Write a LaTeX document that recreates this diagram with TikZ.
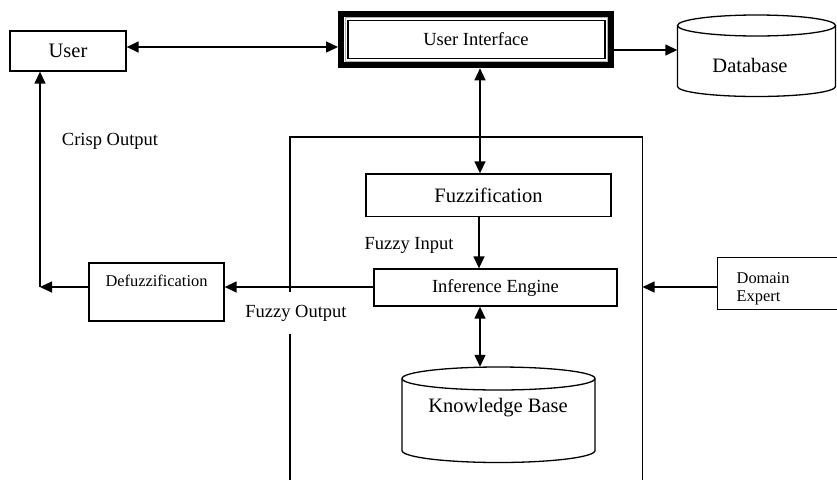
\documentclass[tikz,border=0pt]{standalone}
\usepackage{fontspec}
\setmainfont{Liberation Serif}
\usetikzlibrary{arrows.meta,calc}
\begin{document}
\begin{tikzpicture}[x=1pt,y=-1pt,
  box/.style={draw, line width=1.3pt, inner sep=0pt, rectangle},
  conn/.style={line width=1.4pt},
  arr/.style={conn, -{Triangle[length=12pt,width=11pt]}},
  darr/.style={conn, {Triangle[length=12pt,width=11pt]}-{Triangle[length=12pt,width=11pt]}},
  lbl/.style={font=\fontsize{18.5}{20}\selectfont, inner sep=0pt},
  big/.style={font=\fontsize{20.5}{22}\selectfont},
  small/.style={font=\fontsize{16.4}{18}\selectfont}
]
\useasboundingbox (0,0) rectangle (837,480);
\clip (0,0) rectangle (837,480);

% User
\node[box, minimum width=116pt, minimum height=40pt, big] (user) at (68,51) {User};

% User Interface
\node[draw, line width=6pt, minimum width=270pt, minimum height=51.6pt, inner sep=0pt,
      font=\fontsize{18.5}{20}\selectfont] (ui) at (476,39.5) {User Interface};
\draw[gray!60, line width=1pt] ($(ui.south west)+(7,-7)$) rectangle ($(ui.north east)+(-7,7)$);
\draw[line width=1.5pt] ($(ui.south west)+(10,-10)$) rectangle ($(ui.north east)+(-9,10)$);

% Database cylinder
\draw[line width=1.3pt] (756.5,25.5) ellipse [x radius=79pt, y radius=10.5pt];
\draw[line width=1.3pt] (677.5,25.5) -- (677.5,86.5)
   arc[start angle=180, end angle=360, x radius=79pt, y radius=10pt] -- (835.5,25.5);
\node[minimum width=158pt, minimum height=81pt, inner sep=0pt] (db) at (756.5,56) {};
\node[big, inner sep=0pt] (dbt) at (750,65) {Database};

% Big enclosing frame (open at the bottom)
\coordinate (frL) at (290,137);
\coordinate (frR) at (642.5,137);
\draw[line width=1.3pt] (290,480) -- (frL) -- (frR) -- (642.5,480);

% Fuzzification
\node[box, minimum width=245pt, minimum height=42.5pt, big] (fuzz) at (488.5,195.25) {Fuzzification};

% Inference Engine
\node[box, minimum width=243pt, minimum height=37pt, font=\fontsize{18.5}{20}\selectfont] (ie) at (495.5,287.5) {Inference Engine};

% Knowledge Base cylinder
\draw[line width=1.3pt] (498.5,378.5) ellipse [x radius=96.5pt, y radius=11.5pt];
\draw[line width=1.3pt] (402,378.5) -- (402,450.5)
   arc[start angle=180, end angle=360, x radius=96.5pt, y radius=12pt] -- (595,378.5);
\node[minimum width=193pt, minimum height=96pt, inner sep=0pt] (kb) at (498.5,415) {};
\node[big, inner sep=0pt] (kbt) at (498,408) {Knowledge Base};

% Defuzzification
\node[box, minimum width=135pt, inner ysep=0pt, text height=23.5pt, text depth=34.5pt, small] (defz) at (156.5,292) {Defuzzification};

% Domain Expert
\node[box, minimum width=119.5pt, inner xsep=19pt, inner ysep=0pt, text height=25.4pt, text depth=26.6pt,
      small, anchor=north west] (de) at (717,257) {\parbox[t]{81.5pt}{\raggedright Domain\\Expert}};

% labels
\node[lbl] (crisp) at (110,141) {Crisp Output};
\node[lbl] (fin) at (409,245) {Fuzzy Input};
\node[lbl, fill=white, inner ysep=13pt, inner xsep=1pt] (fout) at (296,313) {Fuzzy Output};

% connectors
\coordinate (vx) at (480,0);
\coordinate (corner) at (40,287);
\draw[darr] (user.east |- 0,47) -- (ui.west |- 0,47);
\draw[arr] (ui.east |- 0,50) -- (db.west |- 0,50);
\draw[darr] (ui.south -| vx) -- (fuzz.north -| vx);
\draw[arr] (fuzz.south -| 479,0) -- (ie.north -| 479,0);
\draw[darr] (ie.south -| vx) -- (kb.north -| vx);
\draw[arr] (ie.west |- 0,287) -- (defz.east |- 0,287);
\draw[arr] (defz.west |- corner) -- (corner);
\draw[arr] (corner) -- (user.south -| corner);
\draw[arr] (de.west |- 0,287) -- (frR |- 0,287);
\end{tikzpicture}
\end{document}
